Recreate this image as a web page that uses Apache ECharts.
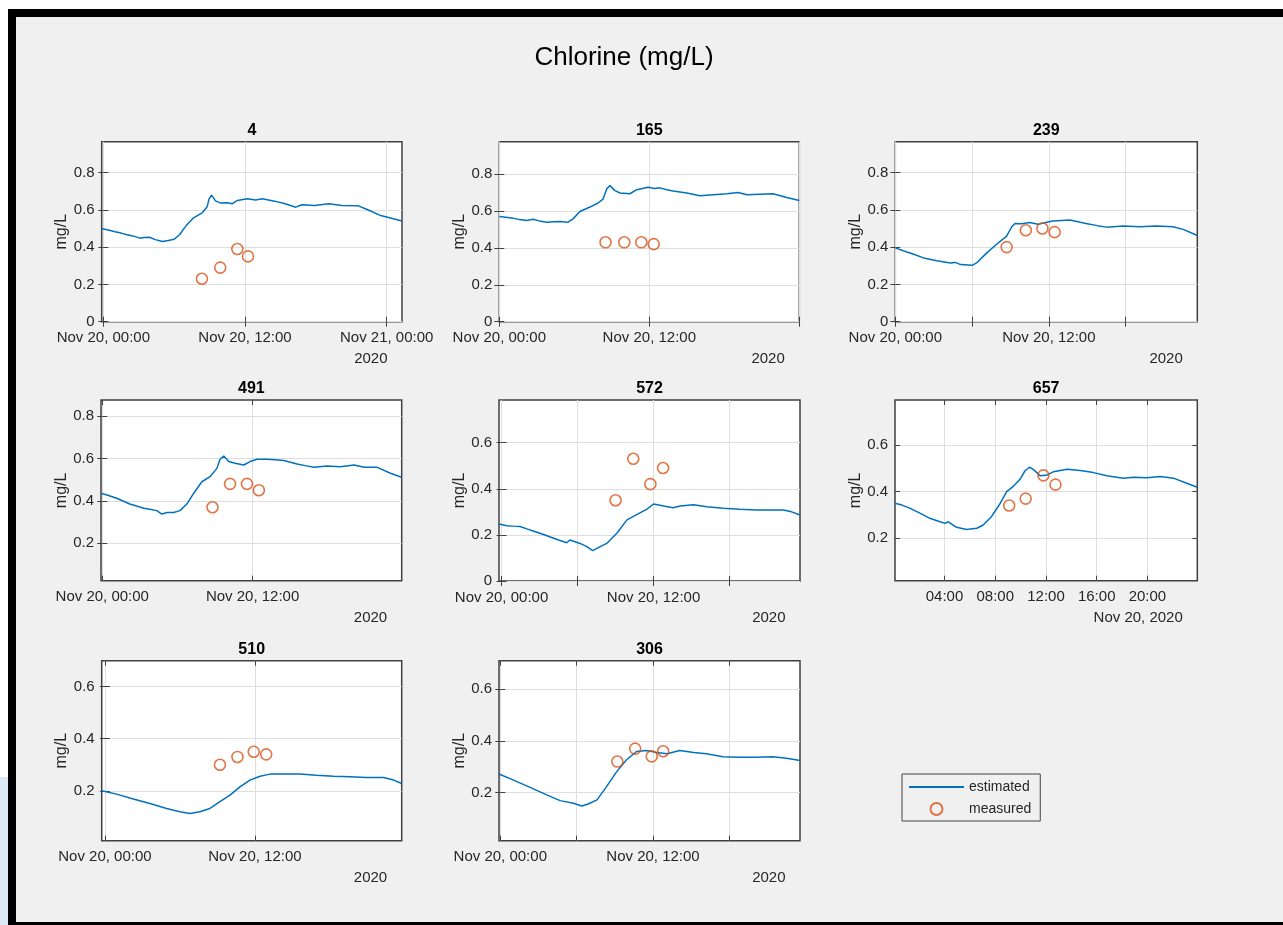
<!DOCTYPE html>
<html>
<head>
<meta charset="utf-8">
<script src="https://cdn.jsdelivr.net/npm/echarts@6/dist/echarts.min.js"></script>
<style>
  html, body { margin: 0; padding: 0; width: 1283px; height: 925px; overflow: hidden; background: #fff; }
  #strip { position: absolute; left: 0; top: 777px; width: 8px; height: 148px; background: #dce9f6; }
  #frame { position: absolute; left: 8px; top: 9px; width: 1275px; height: 916px; background: #000; }
  #sheet { position: absolute; left: 16px; top: 17px; right: 0; bottom: 3px; background: #f0f0f0; }
  #chart { position: absolute; left: 0; top: 0; width: 1283px; height: 925px; }
</style>
</head>
<body>
<div id="strip"></div>
<div id="frame"></div>
<div id="sheet"></div>
<div id="chart"></div>
<script>
// Chlorine at eight network nodes, hours since Nov 20 2020 00:00.
const stations = ['4', '165', '239', '491', '572', '657', '510', '306'];

// Model estimate: [hour, mg/L]
const est_4 = [[-0.14,0.50],[0.5,0.49],[1,0.482],[1.5,0.475],[2,0.466],[2.5,0.46],[3.1,0.448],[3.5,0.452],[3.9,0.453],[4.4,0.44],[5,0.43],[5.5,0.435],[6,0.442],[6.45,0.466],[7,0.514],[7.6,0.555],[8.4,0.585],[8.8,0.618],[8.95,0.657],[9.17,0.679],[9.5,0.648],[9.95,0.636],[10.5,0.638],[10.9,0.632],[11.35,0.65],[12.2,0.659],[12.9,0.653],[13.45,0.659],[14,0.652],[14.6,0.645],[15.4,0.632],[16.3,0.614],[16.8,0.627],[17.9,0.623],[19.1,0.632],[20.2,0.623],[21.6,0.621],[22.4,0.6],[23.5,0.569],[25.3,0.54]];
const est_165 = [[0,0.570],[0.5,0.566],[1.1,0.561],[1.6,0.553],[2.2,0.548],[2.7,0.555],[3.2,0.546],[3.8,0.539],[4.3,0.542],[4.85,0.543],[5.5,0.539],[5.9,0.557],[6.45,0.597],[7.25,0.621],[7.9,0.643],[8.3,0.664],[8.6,0.72],[8.85,0.737],[9.25,0.71],[9.65,0.697],[10.45,0.693],[11,0.715],[11.9,0.728],[12.4,0.722],[12.85,0.725],[13.4,0.715],[13.9,0.708],[15,0.697],[16.05,0.682],[17.1,0.688],[18.2,0.693],[19.1,0.7],[19.8,0.688],[20.85,0.691],[21.9,0.693],[23,0.673],[24,0.657]];
const est_239 = [[0,0.396],[0.9,0.374],[1.5,0.36],[2.2,0.342],[3.25,0.327],[4.3,0.315],[4.7,0.318],[5.1,0.306],[6,0.302],[6.35,0.315],[7.15,0.369],[7.9,0.414],[8.7,0.459],[9.1,0.509],[9.35,0.527],[9.85,0.525],[10.5,0.532],[11.15,0.522],[12.3,0.54],[13.65,0.545],[14.9,0.527],[15.8,0.515],[16.5,0.507],[17.8,0.513],[19.1,0.509],[20.4,0.513],[21.7,0.509],[22.5,0.495],[23.6,0.462]];
const est_491 = [[-0.1,0.436],[0.5,0.425],[1.15,0.412],[1.7,0.398],[2.2,0.385],[2.8,0.375],[3.3,0.365],[3.8,0.36],[4.35,0.354],[4.75,0.338],[5.2,0.345],[5.7,0.345],[6.2,0.354],[6.75,0.385],[7.3,0.436],[7.95,0.49],[8.6,0.514],[9.15,0.553],[9.4,0.596],[9.7,0.611],[10.1,0.585],[10.6,0.577],[11.3,0.569],[11.8,0.585],[12.35,0.596],[13.15,0.596],[13.8,0.594],[14.5,0.59],[15.55,0.574],[16.2,0.566],[16.9,0.558],[17.95,0.564],[19,0.561],[20.1,0.569],[20.9,0.558],[21.95,0.558],[23,0.53],[23.9,0.511]];
const est_572 = [[-0.2,0.247],[0.4,0.24],[0.9,0.238],[1.45,0.236],[2,0.226],[2.5,0.217],[3.2,0.204],[3.8,0.192],[4.5,0.178],[5.15,0.166],[5.4,0.178],[6.2,0.163],[6.7,0.15],[7.2,0.132],[7.8,0.149],[8.3,0.163],[9.1,0.207],[9.9,0.265],[10.7,0.289],[11.45,0.311],[12,0.334],[12.8,0.325],[13.55,0.318],[14.1,0.325],[15.15,0.331],[16.2,0.322],[17.5,0.315],[18.8,0.311],[20.1,0.308],[21.45,0.308],[22.25,0.308],[22.9,0.3],[23.56,0.286]];
const est_657 = [[0.1,0.35],[0.65,0.342],[1.3,0.328],[2.1,0.306],[2.85,0.285],[3.65,0.27],[4.05,0.263],[4.3,0.27],[4.95,0.246],[5.75,0.237],[6.55,0.242],[7.05,0.256],[7.7,0.292],[8.4,0.35],[8.9,0.40],[9.45,0.424],[9.95,0.453],[10.35,0.49],[10.7,0.505],[11.0,0.496],[11.55,0.468],[12.1,0.472],[12.6,0.486],[13.65,0.496],[14.7,0.491],[15.75,0.482],[16.8,0.468],[18.1,0.458],[18.9,0.462],[19.95,0.46],[21,0.465],[22.05,0.458],[23.1,0.436],[23.93,0.419]];
const est_510 = [[-0.26,0.2],[0.93,0.187],[2.27,0.168],[3.6,0.151],[4.93,0.132],[6,0.119],[6.8,0.113],[7.6,0.119],[8.4,0.132],[9.2,0.158],[10,0.183],[10.8,0.215],[11.6,0.241],[12.4,0.256],[13.2,0.264],[14.27,0.264],[15.6,0.264],[16.9,0.26],[18.3,0.256],[19.6,0.254],[20.9,0.251],[22.3,0.251],[23.1,0.241],[23.74,0.228]];
const est_306 = [[-0.1,0.272],[1,0.249],[2.3,0.221],[3.65,0.191],[4.7,0.169],[5.75,0.159],[6.4,0.148],[6.9,0.156],[7.6,0.172],[8.35,0.223],[9.15,0.281],[9.9,0.326],[10.7,0.359],[11.5,0.363],[12.3,0.355],[13.1,0.35],[14.1,0.363],[15.2,0.355],[16.2,0.35],[17.5,0.339],[18.8,0.337],[20.1,0.337],[21.4,0.339],[22.5,0.333],[23.55,0.324]];

// Grab samples: [hour, mg/L]
const meas_4   = [[8.35,0.23],[9.9,0.29],[11.35,0.39],[12.25,0.35]];
const meas_165 = [[8.5,0.43],[10.0,0.43],[11.36,0.43],[12.35,0.42]];
const meas_239 = [[8.7,0.40],[10.2,0.49],[11.5,0.50],[12.45,0.48]];
const meas_491 = [[8.8,0.37],[10.2,0.48],[11.55,0.48],[12.5,0.45]];
const meas_572 = [[9.0,0.35],[10.4,0.53],[11.75,0.42],[12.75,0.49]];
const meas_657 = [[9.1,0.34],[10.4,0.37],[11.8,0.47],[12.75,0.43]];
const meas_510 = [[9.2,0.30],[10.6,0.33],[11.9,0.35],[12.9,0.34]];
const meas_306 = [[9.2,0.32],[10.6,0.37],[11.9,0.34],[12.8,0.36]];

// Tick labels
const dayTickHours = [0, 12, 24];
const dayTickText = ['Nov 20, 00:00', 'Nov 20, 12:00', 'Nov 21, 00:00'];
const clockTickHours = [4, 8, 12, 16, 20];
const clockTickText = ['04:00', '08:00', '12:00', '16:00', '20:00'];
const yTickFull = [0, 0.2, 0.4, 0.6, 0.8];
const yTick491 = [0.2, 0.4, 0.6, 0.8];
const yTick572 = [0, 0.2, 0.4, 0.6];
const yTickLow = [0.2, 0.4, 0.6];

const estimates = [est_4, est_165, est_239, est_491, est_572, est_657, est_510, est_306];
const measures = [meas_4, meas_165, meas_239, meas_491, meas_572, meas_657, meas_510, meas_306];

// Per-panel axes: x range (h), y range, grid ticks, labelled ticks, secondary label
const axes = [
  { x: [-0.14, 25.3], y: [0, 0.965], xt: [0, 12, 24],        xl: [0, 12, 24], yt: yTickFull, sub: '2020' },
  { x: [0, 24],       y: [0, 0.975], xt: [0, 12, 24],        xl: [0, 12],     yt: yTickFull, sub: '2020' },
  { x: [0, 23.6],     y: [0, 0.965], xt: [0, 6, 12, 18],     xl: [0, 12],     yt: yTickFull, sub: '2020' },
  { x: [-0.1, 23.9],  y: [0.024, 0.875], xt: [0, 12],        xl: [0, 12],     yt: yTick491,  sub: '2020' },
  { x: [-0.2, 23.56], y: [0, 0.785], xt: [0, 6, 12, 18],     xl: [0, 12],     yt: yTick572,  sub: '2020' },
  { x: [0.1, 23.93],  y: [0.016, 0.795], xt: clockTickHours, xl: clockTickHours, yt: yTickLow, sub: 'Nov 20, 2020', clock: true },
  { x: [-0.26, 23.74], y: [0.008, 0.7], xt: [0, 12],         xl: [0, 12],     yt: yTickLow,  sub: '2020' },
  { x: [-0.1, 23.55], y: [0.014, 0.71], xt: [0, 6, 12, 18],  xl: [0, 12],     yt: yTickLow,  sub: '2020' }
];

// Subplot boxes in page pixels: left, top, width, height
const boxes = [
  [101.7, 141.7, 300.3, 180], [499.3, 141.7, 300, 180], [895.3, 141.7, 302, 180],
  [101, 400, 300.7, 180.7],   [499, 400, 301, 181],     [895, 400, 302.3, 180.7],
  [101.7, 660.7, 300, 180],   [499, 660.7, 301, 180]
];

const FONT = '"Liberation Sans", Arial, Helvetica, sans-serif';
const INK = '#262626';
const EDGE = '#404040';
const GRIDC = '#dedede';
const BLUE = '#0072BD';
const ORANGE = '#D95319';

const grids = [], xAxes = [], yAxes = [], series = [], graphics = [];

graphics.push({
  type: 'text', x: 624, y: 58,
  style: { text: 'Chlorine (mg/L)', font: '26px ' + FONT, fill: '#000', align: 'center', verticalAlign: 'middle' }
});

stations.forEach((st, i) => {
  const [l, t, w, h] = boxes[i];
  const a = axes[i];
  grids.push({
    left: l, top: t, width: w, height: h, show: true,
    backgroundColor: '#fff', borderColor: EDGE, borderWidth: 1.5,
    containLabel: false, outerBoundsMode: 'none'
  });
  const tickHours = a.clock ? clockTickHours : dayTickHours;
  const tickText = a.clock ? clockTickText : dayTickText;
  // ticks point into the plot box
  const tickStyle = { show: true, inside: false, length: -5, lineStyle: { color: EDGE, width: 1 } };
  xAxes.push({
    type: 'value', gridIndex: i, min: a.x[0], max: a.x[1], position: 'bottom',
    axisLine: { show: false },
    axisTick: Object.assign({ customValues: a.xt }, tickStyle),
    splitLine: { show: true, lineStyle: { color: GRIDC, width: 1 } },
    axisLabel: {
      customValues: a.xl, fontSize: 15, color: INK, fontFamily: FONT, margin: 9,
      formatter: v => { const k = tickHours.indexOf(v); return k >= 0 ? tickText[k] : ''; }
    }
  });
  xAxes.push({
    type: 'value', gridIndex: i, min: a.x[0], max: a.x[1], position: 'top',
    axisLine: { show: false },
    axisTick: Object.assign({ customValues: a.xt }, tickStyle),
    splitLine: { show: false }, axisLabel: { show: false }
  });
  yAxes.push({
    type: 'value', gridIndex: i, min: a.y[0], max: a.y[1], position: 'left',
    axisLine: { show: false },
    axisTick: Object.assign({ customValues: a.yt }, tickStyle),
    splitLine: { show: true, lineStyle: { color: GRIDC, width: 1 } },
    axisLabel: { customValues: a.yt, fontSize: 15, color: INK, fontFamily: FONT, margin: 7 },
    name: 'mg/L', nameLocation: 'middle', nameGap: 27,
    nameTextStyle: { fontSize: 16, color: INK, fontFamily: FONT }
  });
  yAxes.push({
    type: 'value', gridIndex: i, min: a.y[0], max: a.y[1], position: 'right',
    axisLine: { show: false },
    axisTick: Object.assign({ customValues: a.yt }, tickStyle),
    splitLine: { show: false }, axisLabel: { show: false }
  });
  series.push({
    name: 'estimated', type: 'line', xAxisIndex: 2 * i, yAxisIndex: 2 * i,
    data: estimates[i], symbol: 'none', smooth: false,
    lineStyle: { color: BLUE, width: 1.5 }, itemStyle: { color: BLUE }, z: 3
  });
  series.push({
    name: 'measured', type: 'scatter', xAxisIndex: 2 * i, yAxisIndex: 2 * i,
    data: measures[i], symbol: 'circle', symbolSize: 11,
    itemStyle: { color: 'rgba(255,255,255,0)', borderColor: ORANGE, borderWidth: 1.6 }, z: 4
  });
  graphics.push({
    type: 'text', x: l + w / 2, y: t - 11.5,
    style: { text: st, font: 'bold 16px ' + FONT, fill: '#000', align: 'center', verticalAlign: 'middle' }
  });
  graphics.push({
    type: 'text', x: l + w - 14.5, y: t + h + 37,
    style: { text: a.sub, font: '15px ' + FONT, fill: INK, align: 'right', verticalAlign: 'middle' }
  });
});

const chart = echarts.init(document.getElementById('chart'), null, { renderer: 'canvas' });
chart.setOption({
  animation: false,
  backgroundColor: 'transparent',
  textStyle: { fontFamily: FONT },
  grid: grids,
  xAxis: xAxes,
  yAxis: yAxes,
  series: series,
  legend: {
    data: [{ name: 'estimated', itemStyle: { opacity: 0 } }, 'measured'],
    orient: 'vertical', left: 902, top: 774,
    itemWidth: 55, itemHeight: 12, itemGap: 8,
    padding: [6, 9, 5, 6],
    borderColor: EDGE, borderWidth: 1, borderRadius: 0,
    backgroundColor: 'transparent',
    textStyle: { fontSize: 14, color: INK, fontFamily: FONT },
    selectedMode: false
  },
  graphic: graphics
});
</script>
</body>
</html>
